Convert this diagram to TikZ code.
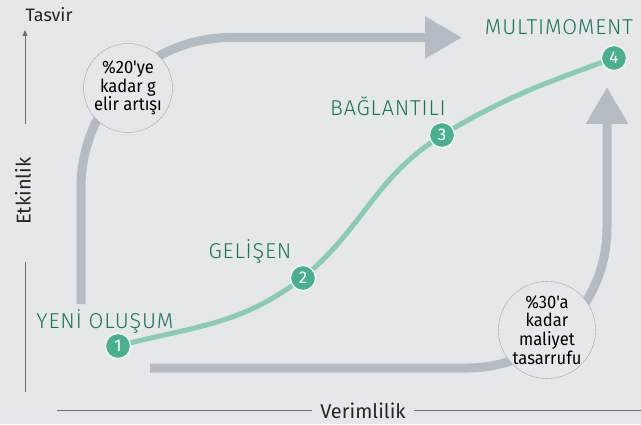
\documentclass[tikz,border=0pt]{standalone}
\usepackage{fontspec}
\setmainfont{Fira Sans}
\IfFontExistsTF{Fira Sans Light}
  {\newfontfamily\stagefont[LetterSpace=4]{Fira Sans Light}}
  {\newfontfamily\stagefont[LetterSpace=4]{Fira Sans}}
\newfontfamily\notefont[FakeStretch=0.92]{Fira Sans}
\usetikzlibrary{
  arrows.meta,
  positioning
}
\definecolor{paper}{HTML}{E6E7E9}
\definecolor{flow}{HTML}{B5BBC2}
\definecolor{dot}{HTML}{4BAE8E}
\definecolor{curve}{HTML}{8DCAB3}
\definecolor{stagegreen}{HTML}{1B7457}
\definecolor{axisgray}{HTML}{6B6D70}

\begin{document}
\begin{tikzpicture}[x=1pt,y=1pt,
      stage/.style={
         circle,
         minimum size=25pt,
         inner sep=0pt,
         fill=dot,
         draw=white!60!paper,
         line width=1.2pt,
         text=white,
         font=\fontsize{17}{17}\selectfont
      },
      stagelabel/.style={
         inner sep=0pt,
         text=stagegreen,
         font=\stagefont\fontsize{21.5}{21.5}\selectfont
      },
      gain/.style={
         circle,
         minimum size=89pt,
         inner sep=0pt,
         fill=paper,
         draw=axisgray!60,
         align=center,
         font=\notefont\fontsize{18}{18.7}\selectfont
      },
      axislabel/.style={
         inner sep=0pt,
         text=black!85,
         font=\fontsize{20}{20}\selectfont
      },
      bigflow/.style={
         draw=flow,
         line width=9pt,
         rounded corners=150pt,
         -{Triangle[width=40pt,length=37pt]}
      },
      trend/.style={draw=curve, line width=5pt},
      axis/.style={draw=axisgray, line width=0.9pt}
    ]
    \fill[paper] (0,0) rectangle (641,424);
    \useasboundingbox (0,0) rectangle (641,424);

    % axes
    \node (tasvir) [axislabel, font=\fontsize{18}{18}\selectfont] at (49,409) {Tasvir};
    \node (etkinlik) [axislabel, rotate=90] at (23,233) {Etkinlik};
    \node (verim) [axislabel] at (363,13) {Verimlilik};
    \coordinate (yup) at (25,394);
    \coordinate (ytop) at (25,300);
    \coordinate (ybot) at (25,162);
    \coordinate (yend) at (25,32);
    \coordinate (xstart) at (57,14);
    \coordinate (xend) at (641,14);
    \draw[axis, -{Triangle[width=5pt,length=6pt]}] (ytop) -- (yup);
    \draw[axis] (ybot) -- (yend);
    \draw[axis] (xstart) -- ([xshift=-8pt]verim.west |- xstart);
    \draw[axis] ([xshift=8pt]verim.east |- xend) -- (xend);

    % big gray arrows
    \coordinate (upstart) at (81,120);
    \coordinate (upcorner) at (81,386.5);
    \coordinate (uptip) at (462,386.5);
    \coordinate (lowstart) at (150,56);
    \coordinate (lowcorner) at (607,56);
    \coordinate (lowtip) at (607,337);
    \draw[bigflow] (upstart) -- (upcorner) -- (uptip);
    \draw[bigflow, rounded corners=140pt] (lowstart) -- (lowcorner) -- (lowtip);

    \node (gelir) [gain] at (128,336) {\%20{\char"27}ye\\kadar g\\elir artışı};
    \node (maliyet) [gain] at (547,94) {\%30{\char"27}a\\kadar\\maliyet\\tasarrufu};

    % stages
    \node (n1) [stage] at (118,78) {1};
    \node (n2) [stage] at (303,146) {2};
    \node (n3) [stage] at (442,289) {3};
    \node (n4) [stage] at (614,366) {4};
    \draw[trend] (n1) to[out=14,in=215] (n2)
                      to[out=42,in=215] (n3)
                      to[out=30,in=200] (n4);

    \node (l1) [stagelabel] at (105,103) {YENİ OLUŞUM};
    \node (l2) [stagelabel] at (250,173) {GELİŞEN};
    \node (l3) [stagelabel] at (388,318) {BAĞLANTILI};
    \node (l4) [stagelabel] at (559,397) {MULTIMOMENT};
\end{tikzpicture}
\end{document}
